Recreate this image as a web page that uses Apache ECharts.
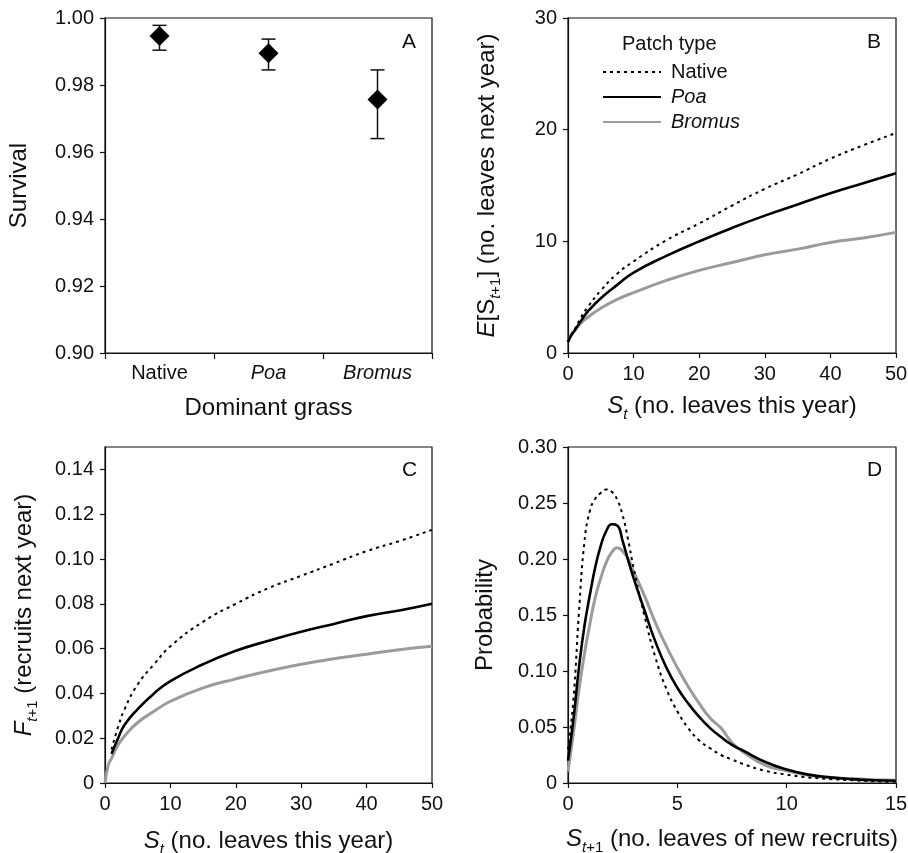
<!DOCTYPE html>
<html>
<head>
<meta charset="utf-8">
<script src="https://cdn.jsdelivr.net/npm/echarts@6/dist/echarts.min.js"></script>
<style>
  html, body { margin: 0; padding: 0; background: #fff; }
  #main { width: 908px; height: 853px; }
</style>
</head>
<body>
<div id="main"></div>
<script>
// panel A: survival by dominant grass
var grassCats = ['Native', 'Poa', 'Bromus'];
var survivalMean = [0.9946, 0.9895, 0.9757];
var survivalLow = [0.9904, 0.9845, 0.9640];
var survivalHigh = [0.9978, 0.9937, 0.9845];

// panel B: expected size next year
var bX = [0, 0.5, 1, 2, 3, 5, 7.5, 10, 15, 20, 25, 30, 35, 40, 45, 50];
var bNative = [1.0, 1.6, 2.1, 3.2, 4.1, 5.6, 7.1, 8.2, 10.1, 11.6, 13.2, 14.7, 16.0, 17.4, 18.6, 19.7];
var bPoa = [1.0, 1.6, 2.0, 2.9, 3.7, 4.9, 6.1, 7.2, 8.7, 10.0, 11.2, 12.3, 13.3, 14.3, 15.2, 16.1];
var bBromus = [1.0, 1.6, 2.0, 2.7, 3.2, 4.0, 4.8, 5.4, 6.5, 7.4, 8.1, 8.8, 9.3, 9.9, 10.3, 10.8];

// panel C: recruits next year
var cX = [0, 0.5, 1, 2, 3, 5, 7.5, 10, 15, 20, 25, 30, 35, 40, 45, 50];
var cNative = [null, null, 0.015, 0.025, 0.033, 0.044, 0.053, 0.061, 0.072, 0.080, 0.087, 0.0925, 0.098, 0.1035, 0.108, 0.113];
var cPoa = [null, null, 0.013, 0.020, 0.026, 0.033, 0.040, 0.0455, 0.053, 0.059, 0.0635, 0.0675, 0.071, 0.0745, 0.077, 0.080];
var cBromus = [0, 0.008, 0.011, 0.017, 0.021, 0.027, 0.032, 0.0365, 0.0425, 0.0465, 0.050, 0.053, 0.0555, 0.0575, 0.0595, 0.061];

// panel D: size distribution of new recruits
var dX = [0, 0.25, 0.5, 0.75, 1, 1.25, 1.5, 1.75, 2, 2.25, 2.5, 2.75, 3, 3.5, 4, 4.5, 5, 5.5, 6, 6.5, 7, 7.5, 8, 9, 10, 11, 12, 13, 14, 15];
var dNative = [0.03, 0.075, 0.152, 0.215, 0.243, 0.254, 0.259, 0.262, 0.260, 0.253, 0.239, 0.217, 0.192, 0.149, 0.112, 0.084, 0.064, 0.049, 0.038, 0.031, 0.025, 0.021, 0.017, 0.011, 0.0075, 0.005, 0.0035, 0.0025, 0.0015, 0.001];
var dPoa = [0.02, 0.057, 0.103, 0.140, 0.168, 0.193, 0.212, 0.225, 0.231, 0.230, 0.216, 0.199, 0.183, 0.154, 0.126, 0.103, 0.085, 0.071, 0.059, 0.049, 0.041, 0.034, 0.029, 0.019, 0.012, 0.0075, 0.005, 0.0035, 0.0025, 0.002];
var dBromus = [0.01, 0.045, 0.083, 0.115, 0.142, 0.166, 0.183, 0.197, 0.206, 0.210, 0.207, 0.200, 0.189, 0.167, 0.143, 0.122, 0.103, 0.086, 0.071, 0.058, 0.049, 0.036, 0.028, 0.016, 0.011, 0.007, 0.0048, 0.0037, 0.003, 0.0025];

var FONT = '"Liberation Sans", Arial, Helvetica, sans-serif';
var INK = '#111';

var rich = {
  i: { fontFamily: FONT, fontSize: 24, fontStyle: 'italic', color: INK },
  sub: { fontFamily: FONT, fontSize: 15, color: INK, verticalAlign: 'bottom', lineHeight: 15, padding: [0, 0, -2, 0] },
  subi: { fontFamily: FONT, fontSize: 15, fontStyle: 'italic', color: INK, verticalAlign: 'bottom', lineHeight: 15, padding: [0, 0, -2, 0] }
};
var nameStyle = { fontFamily: FONT, fontSize: 24, color: INK, lineHeight: 28, rich: rich };
var labelStyle = { fontFamily: FONT, fontSize: 20, color: INK };

function decimals(v) {
  return v === 0 ? '0' : v.toFixed(2);
}

function valueAxis(grid, min, max, interval, name, gap, fmt, extra) {
  var ax = {
    type: 'value', gridIndex: grid, min: min, max: max, interval: interval,
    name: name, nameLocation: 'middle', nameGap: gap, nameTextStyle: nameStyle,
    axisLine: { show: true, lineStyle: { color: INK, width: 1.2 } },
    axisTick: { show: true, inside: false, length: 5, lineStyle: { color: INK, width: 1.2 } },
    axisLabel: Object.assign({ margin: 11, formatter: fmt }, labelStyle),
    splitLine: { show: false }
  };
  if (extra) Object.assign(ax.axisLabel, extra);
  return ax;
}

function pairs(xs, ys) {
  return xs.map(function (x, i) { return [x, ys[i]]; });
}

var nativeLine = { color: '#000', width: 2, type: [3, 4] };
var poaLine = { color: '#000', width: 2.6 };
var bromusLine = { color: '#9b9b9b', width: 3 };

function curves(idx, xs, a, b, c) {
  return [
    { name: 'Native', type: 'line', xAxisIndex: idx, yAxisIndex: idx, data: pairs(xs, a), showSymbol: false, symbol: 'none', smooth: true, lineStyle: nativeLine, itemStyle: { color: '#000' }, z: 4 },
    { name: 'Bromus', type: 'line', xAxisIndex: idx, yAxisIndex: idx, data: pairs(xs, c), showSymbol: false, symbol: 'none', smooth: true, lineStyle: bromusLine, itemStyle: { color: '#9b9b9b' }, z: 2 },
    { name: 'Poa', type: 'line', xAxisIndex: idx, yAxisIndex: idx, data: pairs(xs, b), showSymbol: false, symbol: 'none', smooth: true, lineStyle: poaLine, itemStyle: { color: '#000' }, z: 3 }
  ];
}

var gridBase = { show: true, borderColor: INK, borderWidth: 1.2, backgroundColor: 'transparent', containLabel: false, outerBoundsMode: 'none' };

var option = {
  backgroundColor: '#fff',
  animation: false,
  textStyle: { fontFamily: FONT },
  grid: [
    Object.assign({ left: 105, top: 18, width: 327, height: 335 }, gridBase),
    Object.assign({ left: 568, top: 18, width: 328, height: 335 }, gridBase),
    Object.assign({ left: 105, top: 447, width: 327, height: 336 }, gridBase),
    Object.assign({ left: 568, top: 447, width: 328, height: 336 }, gridBase)
  ],
  xAxis: [
    {
      type: 'category', gridIndex: 0, data: grassCats, boundaryGap: true,
      name: 'Dominant grass', nameLocation: 'middle', nameGap: 41, nameTextStyle: nameStyle,
      axisLine: { show: true, lineStyle: { color: INK, width: 1.2 } },
      axisTick: { show: true, inside: false, length: 6, alignWithLabel: false, interval: 0, lineStyle: { color: INK, width: 1.2 } },
      axisLabel: Object.assign({
        margin: 10, interval: 0, hideOverlap: false,
        formatter: function (v) { return v === 'Native' ? v : '{i|' + v + '}'; },
        rich: { i: { fontFamily: FONT, fontSize: 20, fontStyle: 'italic', color: INK } }
      }, labelStyle),
      splitLine: { show: false }
    },
    valueAxis(1, 0, 50, 10, '{i|S}{subi|t} (no. leaves this year)', 39, null),
    valueAxis(2, 0, 50, 10, '{i|S}{subi|t} (no. leaves this year)', 44, null),
    valueAxis(3, 0, 15, 5, '{i|S}{subi|t}{sub|+1} (no. leaves of new recruits)', 42, null)
  ],
  yAxis: [
    valueAxis(0, 0.9, 1.0, 0.02, 'Survival', 72, function (v) { return v.toFixed(2); }),
    valueAxis(1, 0, 30, 10, '{i|E}[S{subi|t}{sub|+1}] (no. leaves next year)', 67, null),
    valueAxis(2, 0, 0.15, 0.02, '{i|F}{subi|t}{sub|+1} (recruits next year)', 67, decimals, { showMaxLabel: false }),
    valueAxis(3, 0, 0.30, 0.05, 'Probability', 69, decimals)
  ],
  legend: {
    data: ['Native', 'Poa', 'Bromus'],
    orient: 'vertical', left: 602, top: 62, padding: 0,
    itemWidth: 58, itemHeight: 14, itemGap: 5,
    selectedMode: false,
    itemStyle: { opacity: 0 },
    formatter: function (n) { return n === 'Native' ? n : '{i|' + n + '}'; },
    textStyle: {
      fontFamily: FONT, fontSize: 20, color: INK, padding: [0, 0, 0, 5],
      rich: { i: { fontFamily: FONT, fontSize: 20, fontStyle: 'italic', color: INK } }
    }
  },
  graphic: [
    { type: 'text', left: 402, top: 32, style: { text: 'A', font: '21px ' + FONT, fill: INK } },
    { type: 'text', left: 867, top: 32, style: { text: 'B', font: '21px ' + FONT, fill: INK } },
    { type: 'text', left: 402, top: 460, style: { text: 'C', font: '21px ' + FONT, fill: INK } },
    { type: 'text', left: 867, top: 460, style: { text: 'D', font: '21px ' + FONT, fill: INK } },
    { type: 'text', left: 622, top: 34, style: { text: 'Patch type', font: '20px ' + FONT, fill: INK } }
  ],
  series: [
    {
      name: 'error', type: 'custom', xAxisIndex: 0, yAxisIndex: 0, z: 2,
      data: grassCats.map(function (c, i) { return [i, survivalLow[i], survivalHigh[i]]; }),
      renderItem: function (params, api) {
        var lo = api.coord([api.value(0), api.value(1)]);
        var hi = api.coord([api.value(0), api.value(2)]);
        var half = 7;
        var st = { stroke: INK, lineWidth: 1.5 };
        return {
          type: 'group',
          children: [
            { type: 'line', shape: { x1: lo[0], y1: lo[1], x2: hi[0], y2: hi[1] }, style: st },
            { type: 'line', shape: { x1: lo[0] - half, y1: lo[1], x2: lo[0] + half, y2: lo[1] }, style: st },
            { type: 'line', shape: { x1: hi[0] - half, y1: hi[1], x2: hi[0] + half, y2: hi[1] }, style: st }
          ]
        };
      }
    },
    {
      name: 'survival', type: 'scatter', xAxisIndex: 0, yAxisIndex: 0, z: 3,
      data: survivalMean, symbol: 'diamond', symbolSize: 20,
      itemStyle: { color: '#000', opacity: 1 }
    }
  ].concat(curves(1, bX, bNative, bPoa, bBromus))
   .concat(curves(2, cX, cNative, cPoa, cBromus))
   .concat(curves(3, dX, dNative, dPoa, dBromus))
};

var chart = echarts.init(document.getElementById('main'), null, { renderer: 'canvas' });
chart.setOption(option);
</script>
</body>
</html>
